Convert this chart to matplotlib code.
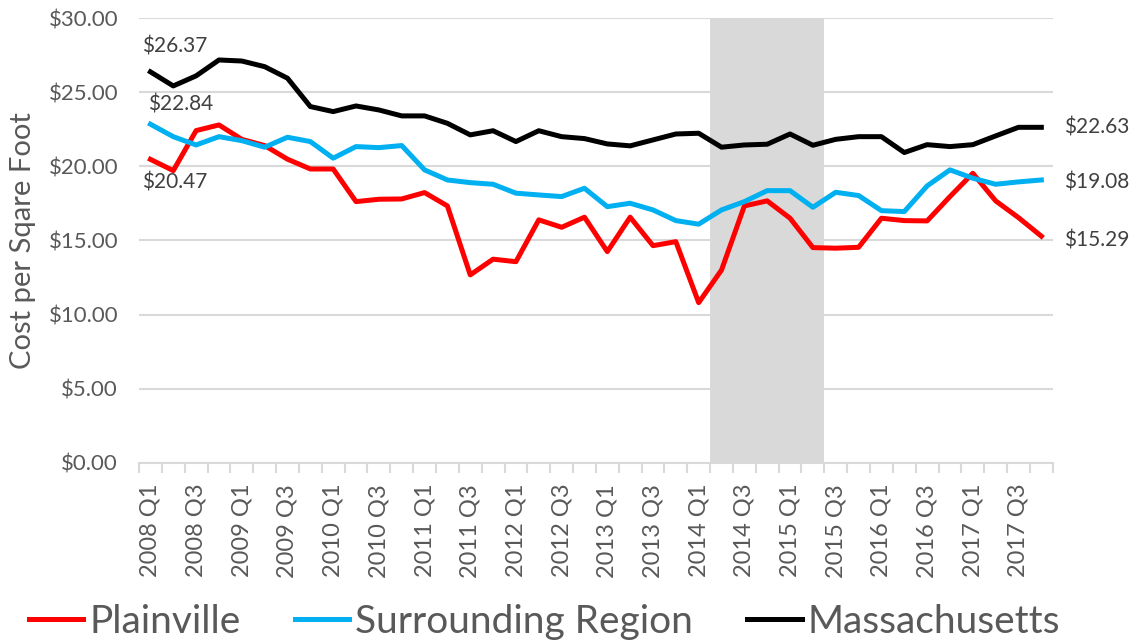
import matplotlib.pyplot as plt
import numpy as np

plt.rcParams['font.family'] = ['Lato', 'DejaVu Sans']

# quarters 2008 Q1 .. 2017 Q4
quarters = [f'{y} Q{q}' for y in range(2008, 2018) for q in range(1, 5)]

plainville = [20.47, 19.71, 22.41, 22.79, 21.82, 21.40, 20.48, 19.82, 19.82, 17.62,
              17.78, 17.80, 18.23, 17.33, 12.68, 13.74, 13.57, 16.39, 15.89, 16.57,
              14.25, 16.57, 14.65, 14.92, 10.81, 13.01, 17.33, 17.67, 16.50, 14.52,
              14.48, 14.54, 16.50, 16.34, 16.32, 17.96, 19.53, 17.67, 16.54, 15.29]

surrounding = [22.84, 22.00, 21.44, 22.00, 21.73, 21.29, 21.96, 21.67, 20.55, 21.33,
               21.26, 21.40, 19.76, 19.08, 18.90, 18.79, 18.19, 18.07, 17.96, 18.52,
               17.28, 17.51, 17.06, 16.34, 16.10, 17.06, 17.62, 18.36, 18.36, 17.24,
               18.25, 18.03, 17.01, 16.95, 18.68, 19.76, 19.20, 18.79, 18.95, 19.08]

massachusetts = [26.37, 25.42, 26.10, 27.17, 27.10, 26.72, 25.94, 24.03, 23.69, 24.07,
                 23.80, 23.40, 23.40, 22.90, 22.12, 22.40, 21.67, 22.40, 22.00, 21.87,
                 21.51, 21.38, 21.78, 22.18, 22.23, 21.29, 21.44, 21.49, 22.18, 21.42,
                 21.82, 22.00, 22.00, 20.93, 21.46, 21.33, 21.46, 22.05, 22.63, 22.63]

# shaded period: 2014 Q2 .. 2015 Q2
shade_start, shade_end = '2014 Q2', '2015 Q2'

gray = '#595959'
x = np.arange(len(quarters))

fig = plt.figure(figsize=(11.32, 6.43), dpi=100)
ax = fig.add_axes([0.1228, 0.280, 0.8072, 0.692])

ax.axvspan(quarters.index(shade_start) - 0.5, quarters.index(shade_end) + 0.5,
           color='#d9d9d9', zorder=1.5, lw=0)

ax.plot(x, plainville, color='#ff0000', lw=3.6, label='Plainville', zorder=3)
ax.plot(x, surrounding, color='#00b0f0', lw=3.6, label='Surrounding Region', zorder=3)
ax.plot(x, massachusetts, color='#000000', lw=3.6, label='Massachusetts', zorder=4)

ax.set_xlim(-0.5, len(quarters) - 0.5)
ax.set_ylim(0, 30)
ax.set_yticks(np.arange(0, 31, 5))
ax.set_yticklabels([f'${v:.2f}' for v in np.arange(0, 31, 5)])
ax.grid(axis='y', color='#d9d9d9', lw=1.5, zorder=0)
ax.set_axisbelow(True)

ax.set_xticks(x[::2])
ax.set_xticklabels(quarters[::2], rotation=90)
ax.set_xticks(np.arange(-0.5, len(quarters), 1), minor=True)
ax.tick_params(axis='x', which='major', length=0, pad=15, labelsize=17, labelcolor=gray)
ax.tick_params(axis='x', which='minor', length=7, color='#d9d9d9', width=1.5)
ax.tick_params(axis='y', length=0, pad=15, labelsize=16, labelcolor=gray)

for s in ['top', 'right', 'left']:
    ax.spines[s].set_visible(False)
ax.spines['bottom'].set_color('#d9d9d9')
ax.spines['bottom'].set_linewidth(1.5)

ax.set_ylabel('Cost per Sqare Foot', fontsize=21, color=gray)
ax.yaxis.set_label_coords(-0.113, 0.5)

# end-point labels
lab = dict(fontsize=15, color='#404040', textcoords='offset points', va='center')
ax.annotate(f'${massachusetts[0]:.2f}', (0, massachusetts[0]), xytext=(-6, 18),
            ha='left', **lab)
ax.annotate(f'${surrounding[0]:.2f}', (0, surrounding[0]), xytext=(-2, 14),
            ha='left', **lab)
ax.annotate(f'${plainville[0]:.2f}', (0, plainville[0]), xytext=(-6, -16.5),
            ha='left', **lab)
for series, dy in ((massachusetts, 0), (surrounding, -1.5), (plainville, -3)):
    ax.annotate(f'${series[-1]:.2f}', (x[-1], series[-1]), xytext=(16, dy),
                ha='left', **lab)

fig.legend(loc='center', bbox_to_anchor=(0.481, 0.033), ncol=3, frameon=False,
           fontsize=28, handlelength=1.4, handletextpad=0.15, columnspacing=1.4,
           labelcolor=gray)

fig.savefig('out.png', dpi=100)
